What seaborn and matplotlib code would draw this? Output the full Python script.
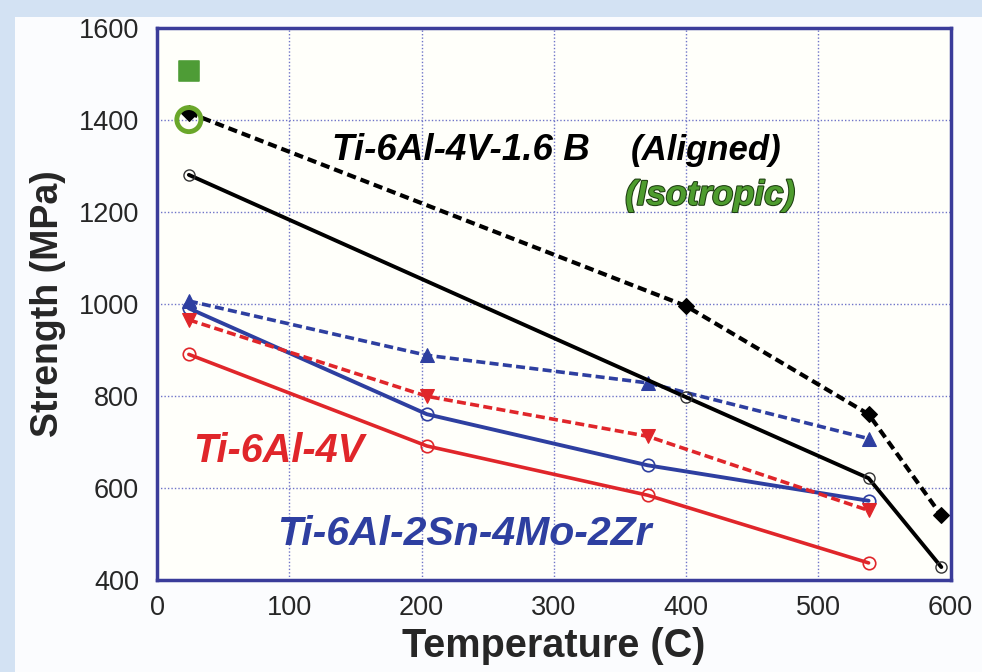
import matplotlib
matplotlib.use("Agg")
import matplotlib.pyplot as plt
import matplotlib.patches as mpatches
import matplotlib.patheffects as pe
import seaborn as sns

# ---- data ----
t_aligned = [24, 400, 538, 593]
s_aligned = [1415, 995, 760, 540]

t_b_solid = [24, 400, 538, 593]
s_b_solid = [1280, 797, 621, 428]

t_ti6242 = [24, 204, 371, 538]
s_ti6242_dash = [1006, 888, 828, 707]
s_ti6242_solid = [990, 760, 649, 572]

t_ti64 = [24, 204, 371, 538]
s_ti64_dash = [965, 799, 712, 551]
s_ti64_solid = [890, 691, 584, 437]

t_iso = [24]
s_iso_square = [1505]
s_iso_circle = [1400]

x_ticks = [0, 100, 200, 300, 400, 500, 600]
y_ticks = [400, 600, 800, 1000, 1200, 1400, 1600]

sns.set_style("white")
plt.rcParams['font.family'] = ['Liberation Sans', 'DejaVu Sans']

fig = plt.figure(figsize=(9.82, 6.72), dpi=100, facecolor="#d3e2f3")
bg = mpatches.Rectangle((0.015, 0), 0.985, 0.975, transform=fig.transFigure,
                        facecolor="#fbfcfe", edgecolor="none", zorder=-10)
fig.add_artist(bg)
ax = fig.add_axes([0.160, 0.137, 0.808, 0.822])
ax.set_zorder(1)
ax.set_facecolor("#fffffa")

blue = "#2e3fa0"
red = "#e0262a"

# black dashed (aligned)
sns.lineplot(x=t_aligned, y=s_aligned, ax=ax, color="black", lw=3, linestyle=(0, (2.2, 1.2)),
             marker="D", markersize=8, markeredgecolor="black", zorder=4)
# black solid
sns.lineplot(x=t_b_solid, y=s_b_solid, ax=ax, color="black", lw=2.8, marker="o", markersize=8,
             markerfacecolor="none", markeredgecolor="#333333", markeredgewidth=1, zorder=4)
# blue dashed
sns.lineplot(x=t_ti6242, y=s_ti6242_dash, ax=ax, color=blue, lw=2.6, linestyle=(0, (2.5, 1.2)),
             marker="^", markersize=10, markeredgecolor=blue, zorder=3)
# blue solid
sns.lineplot(x=t_ti6242, y=s_ti6242_solid, ax=ax, color=blue, lw=2.8, marker="o", markersize=9,
             markerfacecolor="none", markeredgecolor=blue, markeredgewidth=1.2, zorder=3)
# red dashed
sns.lineplot(x=t_ti64, y=s_ti64_dash, ax=ax, color=red, lw=2.6, linestyle=(0, (2.5, 1.2)),
             marker="v", markersize=10, markeredgecolor=red, zorder=3)
# red solid
sns.lineplot(x=t_ti64, y=s_ti64_solid, ax=ax, color=red, lw=2.6, marker="o", markersize=9,
             markerfacecolor="none", markeredgecolor=red, markeredgewidth=1.2, zorder=3)
# isotropic
sns.scatterplot(x=t_iso, y=s_iso_square, ax=ax, marker="s", s=210, color="#4e9c36",
                edgecolor="#4e9c36", zorder=5)
sns.scatterplot(x=t_iso, y=s_iso_circle, ax=ax, marker="o", s=300, facecolor="none",
                edgecolor="#6aa72a", linewidth=3.5, zorder=5)

ax.set_xlim(0, 600)
ax.set_ylim(400, 1600)
ax.set_xticks(x_ticks)
ax.set_yticks(y_ticks)
ax.tick_params(axis="y", length=0, labelsize=19.5, pad=13)
ax.tick_params(axis="x", length=0, labelsize=19.5, pad=11)
ax.grid(True, color="#6f74c8", linestyle=(0, (1, 1.5)), lw=1)
for sp in ax.spines.values():
    sp.set_color("#3a3c9a")
    sp.set_linewidth(2.5)

ax.set_xlabel("Temperature (C)", fontsize=28.5, fontweight="bold", labelpad=4)
ax.set_ylabel("Strength (MPa)", fontsize=27, fontweight="bold", labelpad=9)

ax.text(132, 1312, "Ti-6Al-4V-1.6 B", fontsize=26.5, fontweight="bold", style="italic",
        color="black", va="baseline")
ax.text(358, 1312, "(Aligned)", fontsize=25, fontweight="bold", style="italic",
        color="black", va="baseline")
ax.text(354, 1215, "(Isotropic)", fontsize=25, fontweight="bold", style="italic",
        color="#4e9c2e", va="baseline",
        path_effects=[pe.withStroke(linewidth=1.5, foreground="#1d3d10")])
ax.text(27, 657, "Ti-6Al-4V", fontsize=28.5, fontweight="bold", style="italic",
        color=red, va="baseline")
ax.text(91, 476, "Ti-6Al-2Sn-4Mo-2Zr", fontsize=29.5, fontweight="bold", style="italic",
        color=blue, va="baseline")

fig.savefig("out.png", dpi=100, facecolor=fig.get_facecolor())
